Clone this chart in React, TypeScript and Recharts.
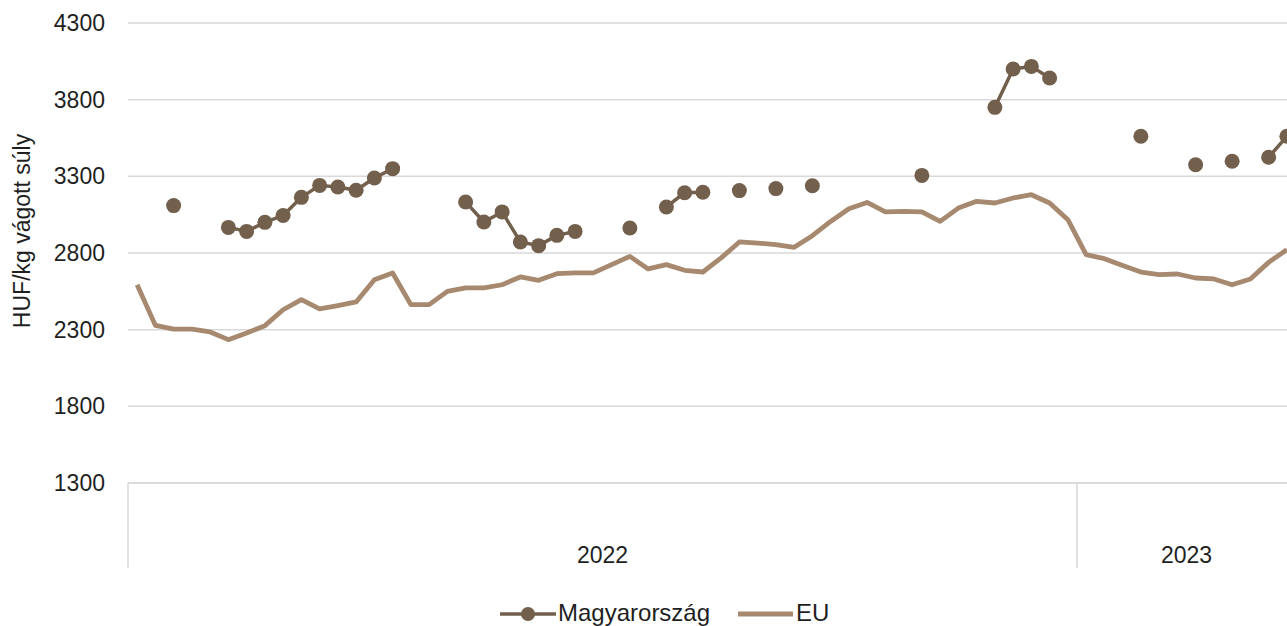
import React from 'react';
import { LineChart, Line, XAxis, YAxis, CartesianGrid } from 'recharts';

// weekly prices, HUF/kg carcass weight
const years = ['2022', '2023'];
const weeksPerYear = [52, 12];

const huPrices: (number | null)[] = [
  null, null, 3109, null, null, 2967, 2941, 3000, 3045, 3163,
  3241, 3230, 3209, 3289, 3350, null, null, null, 3133, 3002,
  3068, 2872, 2848, 2915, 2941, null, null, 2963, null, 3100,
  3193, 3196, null, 3207, null, 3220, null, 3239, null, null,
  null, null, null, 3306, null, null, null, 3750, 4000, 4017,
  3941, null, null, null, null, 3561, null, null, 3376, null,
  3398, null, 3424, 3561,
];

const euPrices: number[] = [
  2593, 2328, 2304, 2304, 2285, 2235, 2278, 2326, 2430, 2496,
  2435, 2457, 2481, 2626, 2670, 2463, 2463, 2550, 2572, 2572,
  2593, 2644, 2622, 2665, 2670, 2670, 2724, 2778, 2696, 2724,
  2687, 2676, 2768, 2872, 2865, 2854, 2837, 2913, 3006, 3089,
  3130, 3068, 3072, 3068, 3006, 3093, 3137, 3126, 3159, 3180,
  3126, 3017, 2789, 2763, 2719, 2676, 2659, 2663, 2637, 2631,
  2593, 2631, 2739, 2822,
];

const yTicks = [1300, 1800, 2300, 2800, 3300, 3800, 4300];

const HU_COLOR = '#725F4C';
const EU_COLOR = '#A6896F';
const GRID = '#D9D9D9';
const TEXT = '#1F1F1F';
const FONT = 'Arial, "Liberation Sans", sans-serif';

const data = euPrices.map((eu, i) => ({ i, hu: huPrices[i], eu }));

// year groups on the x axis: boundaries and centres
const totalWeeks = weeksPerYear.reduce((a, b) => a + b, 0);
const boundaries: number[] = [];
const centres: number[] = [];
let start = 0;
weeksPerYear.forEach(w => {
  boundaries.push(start - 0.5);
  centres.push(start + w / 2 - 0.5);
  start += w;
});
const xTicks = [...boundaries, ...centres].sort((a, b) => a - b);

const YearTick = (props: any) => {
  const { x, y, payload } = props;
  const bi = boundaries.indexOf(payload.value);
  if (bi >= 0) {
    return <line x1={x} x2={x} y1={y} y2={y + 85} stroke={GRID} strokeWidth={1.5} />;
  }
  const ci = centres.indexOf(payload.value);
  return (
    <text x={x} y={y + 80} textAnchor="middle" fill={TEXT} fontSize={23} fontFamily={FONT}>
      {years[ci]}
    </text>
  );
};

const YLabel = () => (
  <text
    x={30}
    y={231}
    transform="rotate(-90 30 231)"
    textAnchor="middle"
    fill={TEXT}
    fontSize={23}
    fontFamily={FONT}
  >
    HUF/kg vágott súly
  </text>
);

export default function App() {
  return (
    <div style={{ position: 'absolute', left: 0, top: 0, width: 1287, height: 626, overflow: 'hidden', background: '#fff' }}>
      <LineChart
        width={1300}
        height={626}
        data={data}
        margin={{ top: 23, right: 4, left: 0, bottom: 58 }}
      >
        <CartesianGrid horizontal vertical={false} stroke={GRID} strokeWidth={1.5} />
        <XAxis
          dataKey="i"
          type="number"
          domain={[-0.5, totalWeeks - 0.5]}
          ticks={xTicks}
          interval={0}
          tick={<YearTick />}
          tickLine={false}
          tickSize={0}
          tickMargin={0}
          axisLine={{ stroke: GRID, strokeWidth: 1.5 }}
          height={85}
        />
        <YAxis
          domain={[1300, 4300]}
          ticks={yTicks}
          interval={0}
          width={128}
          axisLine={false}
          tickLine={false}
          tickSize={0}
          tickMargin={23}
          tick={{ fill: TEXT, fontSize: 23, fontFamily: FONT }}
          label={<YLabel />}
        />
        <Line
          type="linear"
          dataKey="eu"
          stroke={EU_COLOR}
          strokeWidth={4.8}
          strokeLinejoin="round"
          dot={false}
          activeDot={false}
          isAnimationActive={false}
        />
        <Line
          type="linear"
          dataKey="hu"
          stroke={HU_COLOR}
          strokeWidth={3.5}
          strokeLinejoin="round"
          dot={{ r: 7.5, fill: HU_COLOR, stroke: 'none' }}
          activeDot={false}
          isAnimationActive={false}
        />
      </LineChart>
      <svg width={1287} height={30} style={{ position: 'absolute', left: 0, top: 596 }}>
        <line x1={500} x2={556} y1={18} y2={18} stroke={HU_COLOR} strokeWidth={3.5} />
        <circle cx={528} cy={18} r={7} fill={HU_COLOR} />
        <text x={558} y={25} fill={TEXT} fontSize={24} fontFamily={FONT}>Magyarország</text>
        <line x1={738} x2={793} y1={18} y2={18} stroke={EU_COLOR} strokeWidth={4.8} />
        <text x={796} y={25} fill={TEXT} fontSize={24} fontFamily={FONT}>EU</text>
      </svg>
    </div>
  );
}
